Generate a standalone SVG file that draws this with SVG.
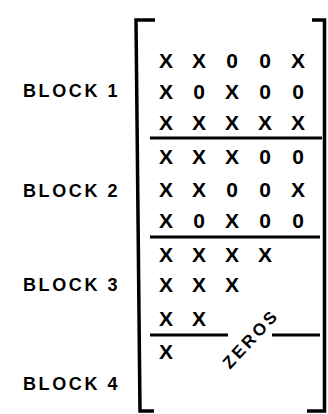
<svg xmlns="http://www.w3.org/2000/svg" width="328" height="414" viewBox="0 0 328 414">
<style>
.lbl{font-family:"Liberation Sans",Arial,sans-serif;font-weight:bold;font-size:18px;letter-spacing:2.6px;fill:#000}
.m{font-family:"Liberation Sans",Arial,sans-serif;font-weight:bold;font-size:21px;fill:#000;text-anchor:middle}
.rule{stroke:#000;stroke-width:3;fill:none}
.br{stroke:#000;stroke-width:3.5;fill:none}
</style>
<rect width="328" height="414" fill="#fff"/>
<g id="bracket">
<path class="br" d="M155 20 H136 L140 411 H154"/>
<path class="br" d="M312 20 H324.5 V411 H307"/>
</g>
<g id="labels">
<text class="lbl" x="23" y="97">BLOCK 1</text>
<text class="lbl" x="23" y="196.5">BLOCK 2</text>
<text class="lbl" x="23" y="290.5">BLOCK 3</text>
<text class="lbl" x="23" y="389.5">BLOCK 4</text>
</g>
<g id="block1">
<text class="m" y="67.5"><tspan x="166">X</tspan><tspan x="199">X</tspan><tspan x="232">0</tspan><tspan x="265">0</tspan><tspan x="298">X</tspan></text>
<text class="m" y="99"><tspan x="166">X</tspan><tspan x="199">0</tspan><tspan x="232">X</tspan><tspan x="265">0</tspan><tspan x="298">0</tspan></text>
<text class="m" y="130"><tspan x="166">X</tspan><tspan x="199">X</tspan><tspan x="232">X</tspan><tspan x="265">X</tspan><tspan x="298">X</tspan></text>
</g>
<g id="block2">
<text class="m" y="164"><tspan x="166">X</tspan><tspan x="199">X</tspan><tspan x="232">X</tspan><tspan x="265">0</tspan><tspan x="298">0</tspan></text>
<text class="m" y="197"><tspan x="166">X</tspan><tspan x="199">X</tspan><tspan x="232">0</tspan><tspan x="265">0</tspan><tspan x="298">X</tspan></text>
<text class="m" y="228"><tspan x="166">X</tspan><tspan x="199">0</tspan><tspan x="232">X</tspan><tspan x="265">0</tspan><tspan x="298">0</tspan></text>
</g>
<g id="block3">
<text class="m" y="262"><tspan x="166">X</tspan><tspan x="199">X</tspan><tspan x="232">X</tspan><tspan x="265">X</tspan></text>
<text class="m" y="291.5"><tspan x="166">X</tspan><tspan x="199">X</tspan><tspan x="232">X</tspan></text>
<text class="m" y="325.5"><tspan x="166">X</tspan><tspan x="199">X</tspan></text>
</g>
<g id="block4">
<text class="m" y="359"><tspan x="166">X</tspan></text>
</g>
<g id="separators">
<line class="rule" x1="150" y1="138" x2="322" y2="138"/>
<line class="rule" x1="150" y1="237" x2="320" y2="237"/>
<line class="rule" x1="150" y1="335" x2="228" y2="335"/>
<line class="rule" x1="272" y1="335" x2="320" y2="335"/>
</g>
<g id="zeros">
<text x="0" y="0" transform="translate(251,339) rotate(-47)" font-family="Liberation Sans, Arial, sans-serif" font-weight="bold" font-size="17" letter-spacing="3" text-anchor="middle" dominant-baseline="central">ZEROS</text>
</g>
</svg>
